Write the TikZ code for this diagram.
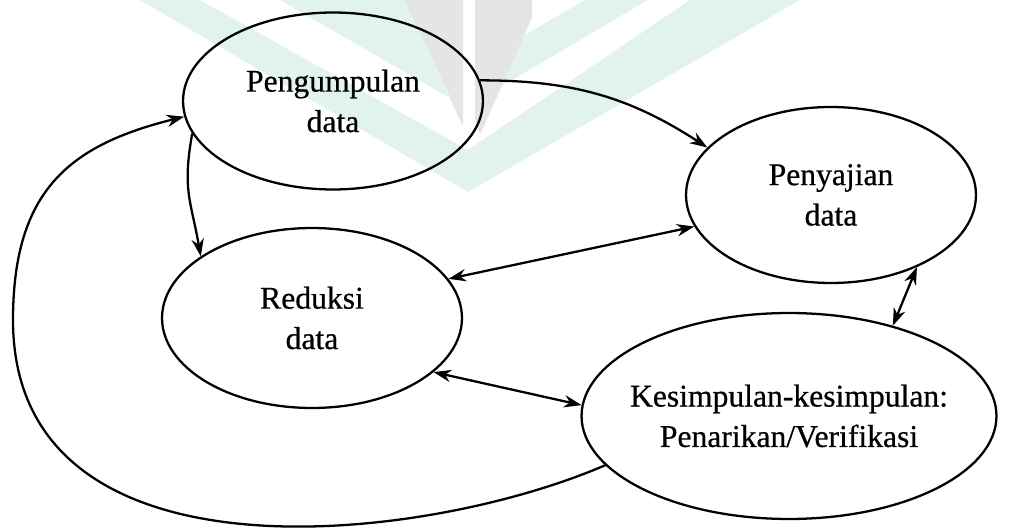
\documentclass[tikz,border=0pt]{standalone}
\usepackage{fontspec}
\setmainfont{Liberation Serif}
\newfontfamily\scanfont[FakeBold=0.6]{Liberation Serif}
\usetikzlibrary{arrows.meta,shapes.geometric}
\definecolor{wmgreen}{HTML}{E2F3EB}
\definecolor{wmgrey}{HTML}{E4E6E6}

\begin{document}
\begin{tikzpicture}[x=0.02cm,y=-0.02cm,>={Stealth[length=10pt,width=7pt]},line width=1.3pt,
    phase/.style={ellipse,draw,inner sep=0pt,align=center,font=\scanfont\fontsize{18}{23}\selectfont}]
            \useasboundingbox (0,0) rectangle (1011,530);

            % faint logo in the background
            \fill[wmgreen] (140,0) -- (200,0) -- (468,150) -- (690,0) -- (800,0) -- (468,192) -- cycle;
            \fill[wmgreen] (280,0) -- (404,0) -- (462,125) -- (462,105) -- cycle;
            \fill[wmgreen] (585,0) -- (648,0) -- (478,100) -- (478,62) -- cycle;
            \fill[wmgrey]  (404,0) -- (463,0) -- (463,125) -- cycle;
            \fill[wmgrey]  (475,0) -- (532,0) -- (532,18) -- (480,135) -- (475,120) -- cycle;

            \node[phase, minimum width=6cm,   minimum height=3.54cm] (peng) at (333,101) {Pengumpulan\\data};
            \node[phase, minimum width=5.8cm, minimum height=3.52cm] (peny) at (831,195) {Penyajian\\data};
            \node[phase, minimum width=6cm,   minimum height=3.6cm]  (red)  at (312,318) {Reduksi\\data};
            \node[phase, minimum width=8.3cm, minimum height=4.12cm, inner xsep=-0.6cm] (kes) at (789,416) {Kesimpulan-kesimpulan:\\Penarikan/Verifikasi};
            \coordinate (loopleft) at (13,320);

            \draw[->] (peng.8) to[out=0,in=147] (peny.159);
            \draw[->] (peng.193) to[out=260,in=100,looseness=1.2] (red.151);
            \draw[<->] (red.16) -- (peny.193);
            \draw[<->] (red.336) -- (kes.177);
            \draw[<->] (kes.41) -- (peny.320);
            \draw[->] (kes.195) .. controls (420,545) and (13,590) .. (loopleft)
                                .. controls (13,190) and (70,145) .. (peng.186);
\end{tikzpicture}
\end{document}
